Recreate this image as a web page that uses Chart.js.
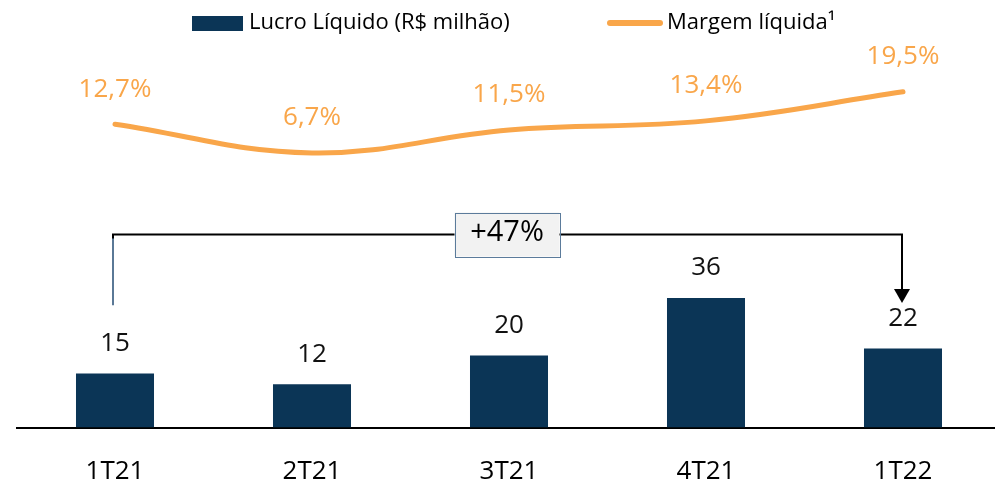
<!DOCTYPE html>
<html>
<head>
<meta charset="utf-8">
<script src="https://cdn.jsdelivr.net/npm/chart.js@4"></script>
<style>
  html, body { margin: 0; padding: 0; background: #fff; overflow: hidden; }
  #wrap { position: relative; width: 1010px; height: 483px; }
</style>
</head>
<body>
<div id="wrap"><canvas id="grafico"></canvas></div>
<script>
// dados
const categorias    = ['1T21', '2T21', '3T21', '4T21', '1T22'];
const lucroLiquido  = [15, 12, 20, 36, 22];
const margemLiquida = [12.7, 6.7, 11.5, 13.4, 19.5];
const legendas      = ['Lucro Líquido (R$ milhão)', 'Margem líquida¹'];
const variacao      = '+47%';

const AZUL    = '#0b3556';
const LARANJA = '#f9a64a';
const FONTE   = '"Open Sans", "Noto Sans", sans-serif';

const fmtPct = v => v.toFixed(1).replace('.', ',') + '%';

// rótulos de valor, legenda e seta de variação
const extras = {
    id: 'extras',
    afterDatasetsDraw(chart) {
        const { ctx } = chart;
        const barras = chart.getDatasetMeta(0).data;
        const pontos = chart.getDatasetMeta(1).data;
        const yB = chart.scales.y;

        ctx.save();
        ctx.textAlign = 'center';
        ctx.textBaseline = 'middle';

        // valores das barras
        ctx.font = '26px ' + FONTE;
        ctx.fillStyle = '#111';
        barras.forEach((b, i) => ctx.fillText(String(lucroLiquido[i]), b.x, b.y - 30));

        // valores da margem
        ctx.fillStyle = LARANJA;
        pontos.forEach((p, i) => ctx.fillText(fmtPct(margemLiquida[i]), p.x, p.y - 35));

        // colchete 1T21 -> 1T22
        const xi = barras[0].x - 2;
        const xf = barras[barras.length - 1].x - 1;
        const yTopo = Math.round(yB.getPixelForValue(53.8)) + 0.5;
        const yIni = yB.getPixelForValue(34);
        const yPonta = yB.getPixelForValue(34.6);

        ctx.lineWidth = 2;
        ctx.strokeStyle = '#5a7896';
        ctx.beginPath();
        ctx.moveTo(xi, yIni);
        ctx.lineTo(xi, yTopo + 3);
        ctx.stroke();

        ctx.strokeStyle = '#000';
        ctx.beginPath();
        ctx.moveTo(xi, yTopo + 4);
        ctx.lineTo(xi, yTopo);
        ctx.lineTo(xf, yTopo);
        ctx.lineTo(xf, yPonta - 12);
        ctx.stroke();

        ctx.fillStyle = '#000';
        ctx.beginPath();
        ctx.moveTo(xf - 8, yPonta - 14);
        ctx.lineTo(xf + 8, yPonta - 14);
        ctx.lineTo(xf, yPonta);
        ctx.closePath();
        ctx.fill();

        // caixa com a variação
        const cx = (barras[1].x + barras[3].x) / 2 - 2;
        const bw = 105, bh = 44;
        ctx.fillStyle = '#f2f2f2';
        ctx.fillRect(cx - bw / 2, yTopo - bh / 2, bw, bh);
        ctx.lineWidth = 1;
        ctx.strokeStyle = '#5b7b9b';
        ctx.strokeRect(Math.round(cx - bw / 2) + 0.5, Math.round(yTopo - bh / 2) + 0.5, bw, bh);
        ctx.fillStyle = '#000';
        ctx.font = '29px ' + FONTE;
        ctx.fillText(variacao, cx, yTopo - 2);

        ctx.restore();
    },
    afterDraw(chart) {
        // legenda no topo
        const { ctx } = chart;
        ctx.save();
        ctx.font = '22px ' + FONTE;
        ctx.textBaseline = 'middle';
        ctx.textAlign = 'left';

        ctx.fillStyle = AZUL;
        ctx.fillRect(192, 16, 51, 15);
        ctx.fillStyle = '#000';
        ctx.fillText(chart.data.datasets[0].label, 249, 23);

        ctx.strokeStyle = LARANJA;
        ctx.lineWidth = 6;
        ctx.lineCap = 'round';
        ctx.beginPath();
        ctx.moveTo(610, 23);
        ctx.lineTo(660, 23);
        ctx.stroke();
        ctx.fillText(chart.data.datasets[1].label, 667, 23);
        ctx.restore();
    }
};

new Chart(document.getElementById('grafico'), {
    data: {
        labels: categorias,
        datasets: [
            {
                type: 'bar',
                label: legendas[0],
                data: lucroLiquido,
                backgroundColor: AZUL,
                categoryPercentage: 1,
                barPercentage: 0.396,
                yAxisID: 'y',
                order: 2
            },
            {
                type: 'line',
                label: legendas[1],
                data: margemLiquida,
                borderColor: LARANJA,
                borderWidth: 5,
                borderCapStyle: 'round',
                tension: 0.4,
                pointRadius: 0,
                yAxisID: 'y2',
                order: 1
            }
        ]
    },
    options: {
        responsive: true,
        maintainAspectRatio: false,
        animation: false,
        layout: { padding: { top: 50, left: 16.5, right: 8.5, bottom: -32.5 } },
        plugins: {
            legend: { display: false },
            tooltip: { enabled: false }
        },
        scales: {
            x: {
                offset: true,
                grid: { display: false, drawTicks: false },
                border: { display: true, color: '#000', width: 2 },
                ticks: {
                    color: '#000',
                    padding: 31,
                    font: { family: FONTE, size: 26, lineHeight: 1 }
                }
            },
            y: { display: false, min: 0, max: 105 },
            y2: { display: false, min: -50.8, max: 28.24 }
        }
    },
    plugins: [extras]
});
</script>
</body>
</html>
